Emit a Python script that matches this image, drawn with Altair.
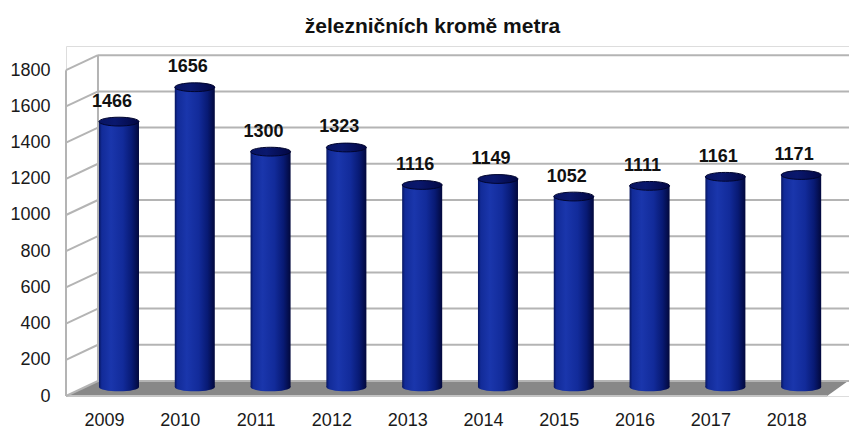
import altair as alt
import pandas as pd

years = ["2009", "2010", "2011", "2012", "2013", "2014", "2015", "2016", "2017", "2018"]
values = [1466, 1656, 1300, 1323, 1116, 1149, 1052, 1111, 1161, 1171]
ticks = [0, 200, 400, 600, 800, 1000, 1200, 1400, 1600, 1800]
title = "železničních kromě metra"

# geometry of the pseudo-3D box (in data units: x = category index, y = value)
X0 = -0.501          # front left edge
XMAX = 9.829         # right edge of plot area
DX_BACK = 0.422      # depth shift of back wall (x)
DY_BACK = 83         # depth shift of back wall (y)
DX_BAR = 0.198       # cylinders sit between front and back
DY_BAR = 50
HALF_W = 0.264       # half cylinder width
FRONT_RIGHT = 9.54
BACK_RIGHT_DX = 0.277
YMAX = 1933.7

font = "Liberation Sans"

df = pd.DataFrame({"year": years, "value": values, "i": list(range(len(years)))})
grid = pd.DataFrame({"v": ticks})

xs = alt.Scale(domain=[X0, XMAX], nice=False, zero=False)
ys = alt.Scale(domain=[0, YMAX], nice=False, zero=False)

label_expr = "[" + ",".join("'%s'" % y for y in years) + "][datum.value]"

x_axis = alt.Axis(
    values=list(range(len(years))), labelExpr=label_expr, title=None,
    domain=False, ticks=False, grid=False, labelPadding=29,
    labelBaseline="alphabetic", labelOverlap=False, labelBound=False,
    labelFont=font, labelFontSize=18, labelColor="#1a1a1a")
y_axis = alt.Axis(
    values=ticks, format="d", title=None, domain=False, ticks=False, grid=False,
    labelOverlap=False, labelBound=False, labelBaseline="middle",
    labelPadding=16, labelFont=font, labelFontSize=18, labelColor="#1a1a1a")


def X(f):
    return alt.X(f, scale=xs, axis=x_axis)


def Y(f):
    return alt.Y(f, scale=ys, axis=y_axis)


# back wall gridlines
back_grid = alt.Chart(grid).transform_calculate(
    yb=f"datum.v + {DY_BACK}", xa=f"{X0 + DX_BACK}", xb=f"{XMAX}"
).mark_rule(color="#b4b4b4", strokeWidth=2).encode(
    x=X("xa:Q"), x2="xb:Q", y=Y("yb:Q"))

# left wall slanted lines
side_grid = alt.Chart(grid).transform_calculate(
    xa=f"{X0}", xb=f"{X0 + DX_BACK}", yb=f"datum.v + {DY_BACK}"
).mark_rule(color="#b4b4b4", strokeWidth=2).encode(
    x=X("xa:Q"), x2="xb:Q", y=Y("v:Q"), y2="yb:Q")

edges = pd.DataFrame({"xa": [X0, X0 + DX_BACK], "ya": [0, DY_BACK],
                      "yb": [ticks[-1], ticks[-1] + DY_BACK]})
vert = alt.Chart(edges).mark_rule(color="#b4b4b4", strokeWidth=2).encode(
    x=X("xa:Q"), y=Y("ya:Q"), y2="yb:Q")

# floor
floor_df = pd.DataFrame({
    "x": [X0, X0 + DX_BACK, FRONT_RIGHT, FRONT_RIGHT + BACK_RIGHT_DX],
    "top": [0, DY_BACK, DY_BACK, DY_BACK],
    "bot": [0, 0, 0, DY_BACK],
})
floor = alt.Chart(floor_df).mark_area(color="#888888", opacity=1, interpolate="linear").encode(
    x=X("x:Q"), y=Y("top:Q"), y2="bot:Q")
floor_edge = alt.Chart(pd.DataFrame({"a": [X0], "b": [FRONT_RIGHT], "z": [0]})).mark_rule(
    color="#c4c4c4", strokeWidth=2).encode(
    x=X("a:Q"), x2="b:Q", y=Y("z:Q"))

body_grad = alt.Gradient(
    gradient="linear", x1=0, x2=1, y1=0, y2=0,
    stops=[alt.GradientStop(color="#061560", offset=0),
           alt.GradientStop(color="#122b98", offset=0.07),
           alt.GradientStop(color="#1a36ac", offset=0.3),
           alt.GradientStop(color="#122b9a", offset=0.6),
           alt.GradientStop(color="#081a74", offset=0.82),
           alt.GradientStop(color="#02083c", offset=1)])
top_grad = alt.Gradient(
    gradient="linear", x1=0, x2=1, y1=0, y2=0,
    stops=[alt.GradientStop(color="#081462", offset=0),
           alt.GradientStop(color="#0a186e", offset=0.4),
           alt.GradientStop(color="#020744", offset=1)])

ell = "M-1,0A1,0.22,0,1,0,1,0A1,0.22,0,1,0,-1,0Z"

cyl = alt.Chart(df).transform_calculate(
    xl=f"datum.i + {DX_BAR} - {HALF_W}", xr=f"datum.i + {DX_BAR} + {HALF_W}",
    xc=f"datum.i + {DX_BAR}", y0=f"{DY_BAR}", y1=f"datum.value + {DY_BAR}",
    xt="datum.i + 0.105")

bottoms = cyl.mark_point(shape=ell, size=1600, filled=True, fill=body_grad,
                         opacity=1, strokeWidth=0).encode(
    x=X("xc:Q"), y=Y("y0:Q"))
bodies = cyl.mark_bar(fill=body_grad, opacity=1).encode(
    x=X("xl:Q"), x2="xr:Q", y=Y("y0:Q"), y2="y1:Q")
tops = cyl.mark_point(shape=ell, size=1600, filled=True, fill=top_grad,
                      stroke="#01052e", strokeWidth=1, opacity=1).encode(
    x=X("xc:Q"), y=Y("y1:Q"))
labels = cyl.mark_text(font=font, fontSize=18, fontWeight="bold", color="#111111",
                       baseline="alphabetic", dy=-15).encode(
    x=X("xt:Q"), y=Y("y1:Q"), text="value:Q")

chart = alt.layer(
    floor, floor_edge, back_grid, side_grid, vert,
    bottoms, bodies, tops, labels
).properties(
    width=783, height=350,
    padding={"left": 66, "top": 46, "right": 0, "bottom": 32},
    autosize=alt.AutoSizeParams(type="none"),
    title=alt.TitleParams(title, font=font, fontSize=21, fontWeight="bold",
                          color="#111111", anchor="middle", dx=-25, dy=20,
                          baseline="alphabetic", offset=12),
).configure_view(stroke=None).configure(background="white")

chart.save("out.html", embed_options={"renderer": "svg", "actions": False})
